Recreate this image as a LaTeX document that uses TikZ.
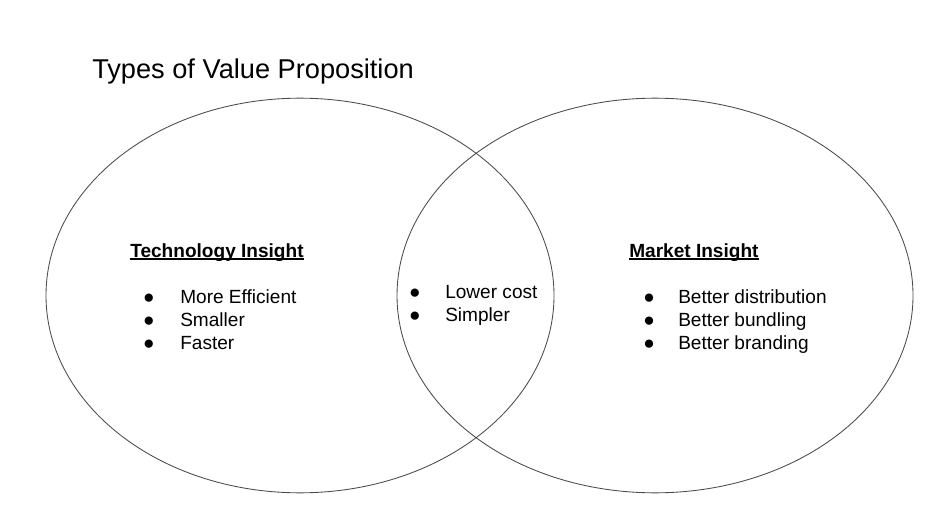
\documentclass[tikz,border=0pt]{standalone}
\usepackage{fontspec}
\setmainfont{Liberation Sans}
\usetikzlibrary{shapes.geometric,positioning}
\tikzset{
  setshape/.style={draw=black!70,line width=0.65pt,ellipse,inner sep=0pt,minimum height=296pt},
  headtxt/.style={anchor=base west,inner sep=0pt,font=\fontsize{14.3}{16}\selectfont\bfseries},
  itemtxt/.style={anchor=base west,inner sep=0pt,font=\fontsize{14.3}{16}\selectfont},
  bulletmark/.style={anchor=base,inner sep=0pt,font=\fontsize{14.3}{16}\selectfont},
  uline/.style={line width=1pt}
}
\begin{document}
\begin{tikzpicture}[x=0.75pt,y=-0.75pt]
  \useasboundingbox (0,0) rectangle (942,506);
  \node[anchor=base west,inner sep=0pt,font=\fontsize{20.4}{24}\selectfont] (title) at (92,78.5) {Types of Value Proposition};

  % the two sets
  \node[setshape,minimum width=381pt] (techset) at (300,295.5) {};
  \node[setshape,minimum width=387pt] (mktset) at (655,295.5) {};

  % technology side
  \node[headtxt] (techhead) at (130,257) {Technology Insight};
  \draw[uline] ([yshift=-1.6pt]techhead.base west) -- ([yshift=-1.6pt]techhead.base east);
  \foreach \txt [count=\i] in {More Efficient,Smaller,Faster} {
    \node[bulletmark] (techdot\i) at (149,{303+23*(\i-1)}) {●};
    \node[itemtxt] (techitem\i) at (180,{303+23*(\i-1)}) {\txt};
  }

  % overlap
  \foreach \txt [count=\i] in {Lower cost,Simpler} {
    \node[bulletmark] (bothdot\i) at (415,{298+23*(\i-1)}) {●};
    \node[itemtxt] (bothitem\i) at (445,{298+23*(\i-1)}) {\txt};
  }

  % market side
  \node[headtxt] (mkthead) at (629,257) {Market Insight};
  \draw[uline] ([yshift=-1.6pt]mkthead.base west) -- ([yshift=-1.6pt]mkthead.base east);
  \foreach \txt [count=\i] in {Better distribution,Better bundling,Better branding} {
    \node[bulletmark] (mktdot\i) at (649,{303+23*(\i-1)}) {●};
    \node[itemtxt] (mktitem\i) at (678,{303+23*(\i-1)}) {\txt};
  }
\end{tikzpicture}
\end{document}
